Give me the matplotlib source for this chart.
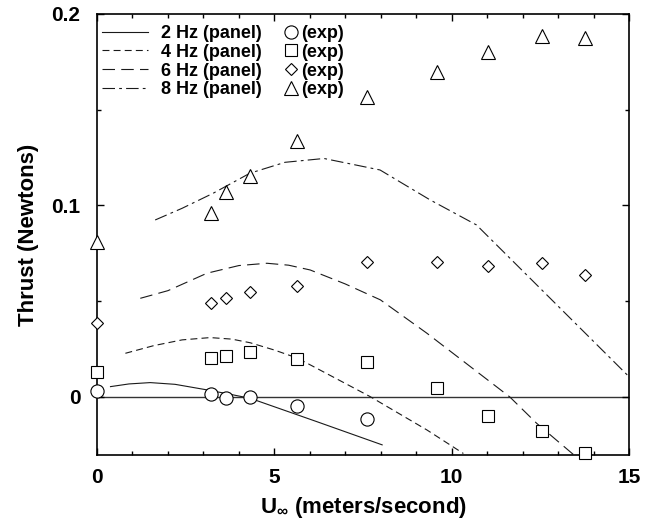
import matplotlib
matplotlib.use("Agg")
import matplotlib.pyplot as plt
from matplotlib.lines import Line2D
from matplotlib.ticker import MultipleLocator, FixedFormatter, FixedLocator

plt.rcParams['font.family'] = ['Liberation Sans', 'DejaVu Sans']
plt.rcParams['font.weight'] = 'bold'
plt.rcParams['mathtext.fontset'] = 'custom'
plt.rcParams['mathtext.rm'] = 'Liberation Sans:bold'
plt.rcParams['mathtext.bf'] = 'Liberation Sans:bold'
plt.rcParams['lines.scale_dashes'] = False

# panel method curves
x2 = [0.38, 0.9, 1.5, 2.2, 3.1, 3.7, 4.32, 6.2, 8.04]
y2 = [0.0054, 0.0068, 0.0075, 0.0066, 0.0037, 0.0016, -0.0007, -0.0129, -0.025]
x4 = [0.8, 1.6, 2.4, 3.19, 3.8, 4.32, 5.0, 5.65, 6.6, 7.7, 9.3, 10.33]
y4 = [0.0228, 0.0268, 0.0298, 0.031, 0.0302, 0.0283, 0.0245, 0.0203, 0.011, 0.0002, -0.0172, -0.0295]
x6 = [1.22, 2.0, 3.1, 4.0, 4.79, 5.4, 6.01, 7.0, 7.99, 9.3, 11.64, 12.4, 13.43]
y6 = [0.0515, 0.0555, 0.0646, 0.0686, 0.0698, 0.0688, 0.0663, 0.059, 0.0507, 0.0333, 0.0, -0.0138, -0.030]
x8 = [1.64, 2.4, 3.28, 4.31, 5.3, 6.4, 7.98, 9.39, 10.7, 15.0]
y8 = [0.0924, 0.0985, 0.1064, 0.1168, 0.1225, 0.1245, 0.1185, 0.1029, 0.0898, 0.0106]

# experimental points
u_exp = [0, 3.21, 3.63, 4.31, 5.65, 7.6, 9.58, 11.02, 12.55, 13.77]
t2 = [0.0033, 0.0014, -0.0003, 0.0, -0.0045, -0.0113]
t4 = [0.013, 0.0205, 0.0216, 0.0233, 0.0198, 0.0181, 0.0049, -0.0098, -0.0176, -0.0294]
t6 = [0.0385, 0.0492, 0.0519, 0.0547, 0.0581, 0.0707, 0.0707, 0.0686, 0.0698, 0.0637]
t8 = [0.0811, 0.0959, 0.1069, 0.1154, 0.1337, 0.1565, 0.1694, 0.18, 0.1887, 0.1873]

line_labels = ['2 Hz (panel)', '4 Hz (panel)', '6 Hz (panel)', '8 Hz (panel)']

fig = plt.figure(figsize=(6.6, 5.19), dpi=100)
ax = fig.add_axes([0.147, 0.1233, 0.806, 0.85])

lw = 0.8
c = '0.1'
styles = ['-', (0, (5, 3)), (0, (9, 4.5)), (0, (9, 3, 2, 3))]
curves = [(x2, y2), (x4, y4), (x6, y6), (x8, y8)]
handles = []
for (xs, ys), ls, lab in zip(curves, styles, line_labels):
    h, = ax.plot(xs, ys, color=c, lw=lw, linestyle=ls, label=lab)
    handles.append(h)

ax.axhline(0, color='0.2', lw=1.0, zorder=1)

mk = dict(mfc='white', mec='black', mew=0.8, linestyle='none', clip_on=False, zorder=5)
ax.plot(u_exp[:len(t2)], t2, marker='o', ms=9.5, **mk)
ax.plot(u_exp, t4, marker='s', ms=8, **mk)
ax.plot(u_exp, t6, marker='D', ms=6, **mk)
ax.plot(u_exp, t8, marker='^', ms=9.5, **mk)

ax.set_xlim(0, 15)
ax.set_ylim(-0.0303, 0.2)
ax.xaxis.set_major_locator(MultipleLocator(5))
ax.xaxis.set_minor_locator(MultipleLocator(1))
ax.yaxis.set_major_locator(FixedLocator([0, 0.1, 0.2]))
ax.yaxis.set_major_formatter(FixedFormatter(['0', '0.1', '0.2']))
ax.yaxis.set_minor_locator(FixedLocator([-0.05, 0.05, 0.15]))
ax.tick_params(which='both', direction='in', top=True, right=True, width=1.0)
ax.tick_params(which='major', length=5, labelsize=15)
ax.tick_params(axis='x', which='major', pad=9)
ax.tick_params(axis='y', which='major', pad=12)
ax.tick_params(which='minor', length=3)
for s in ax.spines.values():
    s.set_linewidth(1.2)

ax.set_xlabel(r'U$_\infty$ (meters/second)', fontsize=16, fontweight='bold', labelpad=6)
ax.set_ylabel('Thrust (Newtons)', fontsize=16, fontweight='bold', labelpad=9)

leg1 = ax.legend(handles=handles, loc='upper left', bbox_to_anchor=(0.0, 0.985),
                 frameon=False, fontsize=13, handlelength=2.6, handletextpad=0.7,
                 labelspacing=0.1, borderpad=0.15, borderaxespad=0.1)
ax.add_artist(leg1)
mhandles = [Line2D([], [], marker=m, ms=s, mfc='white', mec='black', mew=0.8, linestyle='none')
            for m, s in zip(['o', 's', 'D', '^'], [9.5, 8, 6, 9.5])]
ax.legend(handles=mhandles, labels=['(exp)'] * 4, loc='upper left', bbox_to_anchor=(0.345, 0.985),
          frameon=False, fontsize=13, handlelength=0.7, handletextpad=0.2,
          labelspacing=0.1, borderpad=0.15, borderaxespad=0.1)

fig.savefig('out.png', dpi=100)
